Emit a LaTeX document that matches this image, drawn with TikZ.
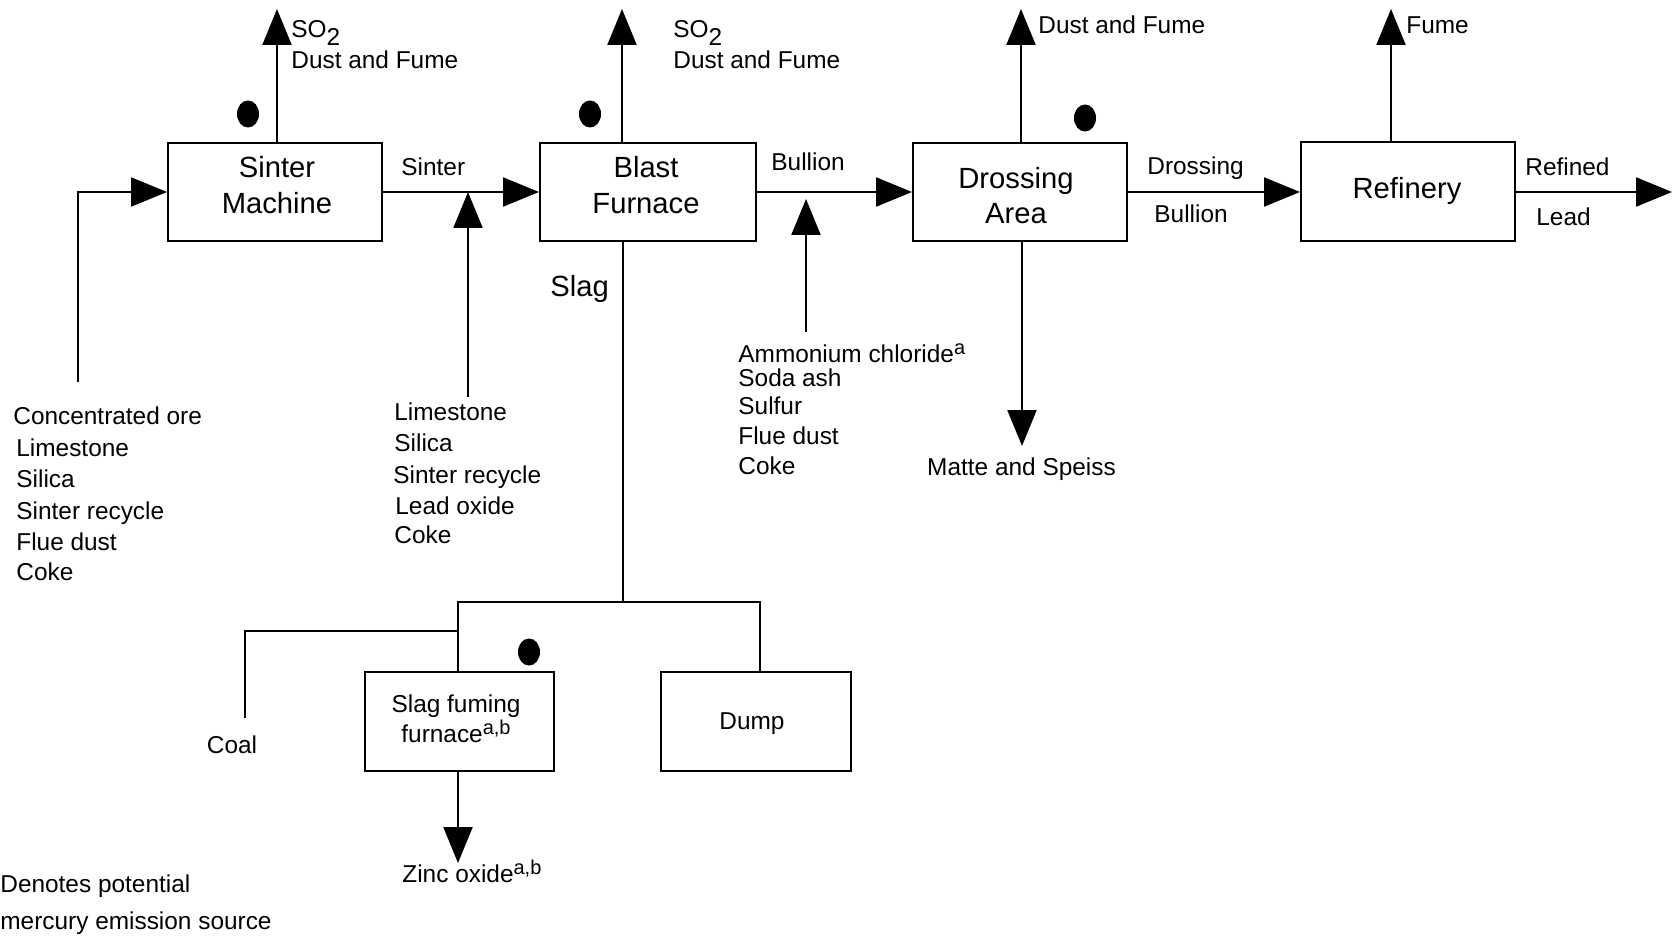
\documentclass[tikz,border=0pt]{standalone}
\usepackage{fontspec}
\setmainfont{Liberation Sans}
\usetikzlibrary{arrows.meta,shapes.geometric}
\newcommand\mybig{\fontsize{14.6}{17.5}\selectfont}
\newcommand\mysmall{\fontsize{12.2}{14}\selectfont}
\newcommand\supa[1]{\raisebox{0.3em}{\fontsize{10}{11}\selectfont #1}}
\begin{document}
\begin{tikzpicture}[x=0.5pt,y=-0.5pt,
  box/.style={draw, line width=1pt, inner sep=0pt},
  flow/.style={draw, line width=1.1pt, -{Triangle[length=18pt,width=14.5pt]}},
  plain/.style={draw, line width=1.1pt},
  dot/.style={ellipse, fill=black, inner sep=0pt, minimum width=11pt, minimum height=13.5pt},
  lab/.style={anchor=base west, inner sep=0pt, font=\mysmall},
  labc/.style={anchor=base, inner sep=0pt, font=\mysmall},
  bigc/.style={anchor=base, inner sep=0pt, font=\mybig}]
\useasboundingbox (0,0) rectangle (1675,936);
% boxes
\node[box, minimum width=107pt, minimum height=49pt] (sm) at (275,192) {};
\node[box, minimum width=108pt, minimum height=49pt] (bf) at (648,192) {};
\node[box, minimum width=107pt, minimum height=49pt] (da) at (1020,192) {};
\node[box, minimum width=107pt, minimum height=49.5pt] (rf) at (1408,191.5) {};
\node[box, minimum width=94.5pt, minimum height=49.5pt] (sf) at (459.5,721.5) {};
\node[box, minimum width=95pt, minimum height=49.5pt] (dp) at (756,721.5) {};
% box texts
\node[bigc] (smt1) at (277,178) {Sinter};
\node[bigc] (smt2) at (277,213.5) {Machine};
\node[bigc] (bft1) at (646,178) {Blast};
\node[bigc] (bft2) at (646,213.5) {Furnace};
\node[bigc] (dat1) at (1016,189) {Drossing};
\node[bigc] (dat2) at (1016,224) {Area};
\node[bigc] (rft) at (1407,198.5) {Refinery};
\node[labc] (sft1) at (456,712) {Slag fuming};
\node[labc] (sft2) at (456,742) {furnace\supa{a,b}};
\node[labc] (dpt) at (752,729.5) {Dump};
% main flow
\coordinate (in1) at (78,382);
\draw[flow] (in1) |- (sm.west);
\draw[flow] (sm.east) -- (bf.west);
\draw[flow] (bf.east) -- (da.west);
\draw[flow] (da.east) -- (rf.west |- da.east);
\coordinate (out) at (1672,192);
\draw[flow] (rf.east |- out) -- (out);
\coordinate (in2) at (468,397); \coordinate (j2) at (468,192);
\draw[flow] (in2) -- (j2);
\coordinate (in3) at (806,332); \coordinate (j3) at (806,199);
\draw[flow] (in3) -- (j3);
% emissions
\coordinate (smo) at (277,9); \draw[flow] (sm.north -| smo) -- (smo);
\coordinate (bfo) at (622,9); \draw[flow] (bf.north -| bfo) -- (bfo);
\coordinate (dao) at (1021,9); \draw[flow] (da.north -| dao) -- (dao);
\coordinate (rfo) at (1391,9); \draw[flow] (rf.north -| rfo) -- (rfo);
\coordinate (dad) at (1022,446); \draw[flow] (da.south -| dad) -- (dad);
% slag
\coordinate (sj) at (623,602);
\coordinate (sl) at (458,602); \coordinate (sr) at (760,602);
\draw[plain] (bf.south -| sj) -- (sj);
\draw[plain] (sf.north -| sl) -- (sl) -- (sr) -- (dp.north -| sr);
\coordinate (coal) at (245,718); \coordinate (cj) at (458,631);
\draw[plain] (coal) |- (cj);
\coordinate (zn) at (458,863); \draw[flow] (sf.south -| zn) -- (zn);
% dots
\node[dot] (d1) at (248,114) {};
\node[dot] (d2) at (590,114) {};
\node[dot] (d3) at (1085,118) {};
\node[dot] (d4) at (529,652) {};
% labels
\node[lab] (t1) at (291,38) {SO\raisebox{-0.3em}{2}};
\node[lab] (t2) at (291,69) {Dust and Fume};
\node[lab] (t3) at (673,38) {SO\raisebox{-0.3em}{2}};
\node[lab] (t4) at (673,69) {Dust and Fume};
\node[lab] (t5) at (1038,33.5) {Dust and Fume};
\node[lab] (t6) at (1406,33.5) {Fume};
\node[lab] (t7) at (401,175.5) {Sinter};
\node[lab] (t8) at (771,170.5) {Bullion};
\node[lab] (t9) at (1147,174.5) {Drossing};
\node[lab] (t10) at (1154,222.5) {Bullion};
\node[lab] (t11) at (1525,175.5) {Refined};
\node[lab] (t12) at (1536,225.5) {Lead};
\node[lab, font=\mybig] (t13) at (550,296) {Slag};
% list 1
\node[lab] (a1) at (13,424) {Concentrated ore};
\node[lab] (a2) at (16,456) {Limestone};
\node[lab] (a3) at (16,487) {Silica};
\node[lab] (a4) at (16,519) {Sinter recycle};
\node[lab] (a5) at (16,550) {Flue dust};
\node[lab] (a6) at (16,580) {Coke};
% list 2
\node[lab] (b1) at (394,420) {Limestone};
\node[lab] (b2) at (394,451) {Silica};
\node[lab] (b3) at (393,483) {Sinter recycle};
\node[lab] (b4) at (395,514) {Lead oxide};
\node[lab] (b5) at (394,543) {Coke};
% list 3
\node[lab] (c1) at (738,362) {Ammonium chloride\supa{a}};
\node[lab] (c2) at (738,386) {Soda ash};
\node[lab] (c3) at (738,414) {Sulfur};
\node[lab] (c4) at (738,444) {Flue dust};
\node[lab] (c5) at (738,474) {Coke};
\node[labc] (m1) at (1021.5,475.5) {Matte and Speiss};
\node[labc] (co) at (232,753.5) {Coal};
\node[lab] (zo) at (402,882) {Zinc oxide\supa{a,b}};
\node[lab] (l1) at (0,892) {Denotes potential};
\node[lab] (l2) at (0,929) {mercury emission source};
\end{tikzpicture}
\end{document}
